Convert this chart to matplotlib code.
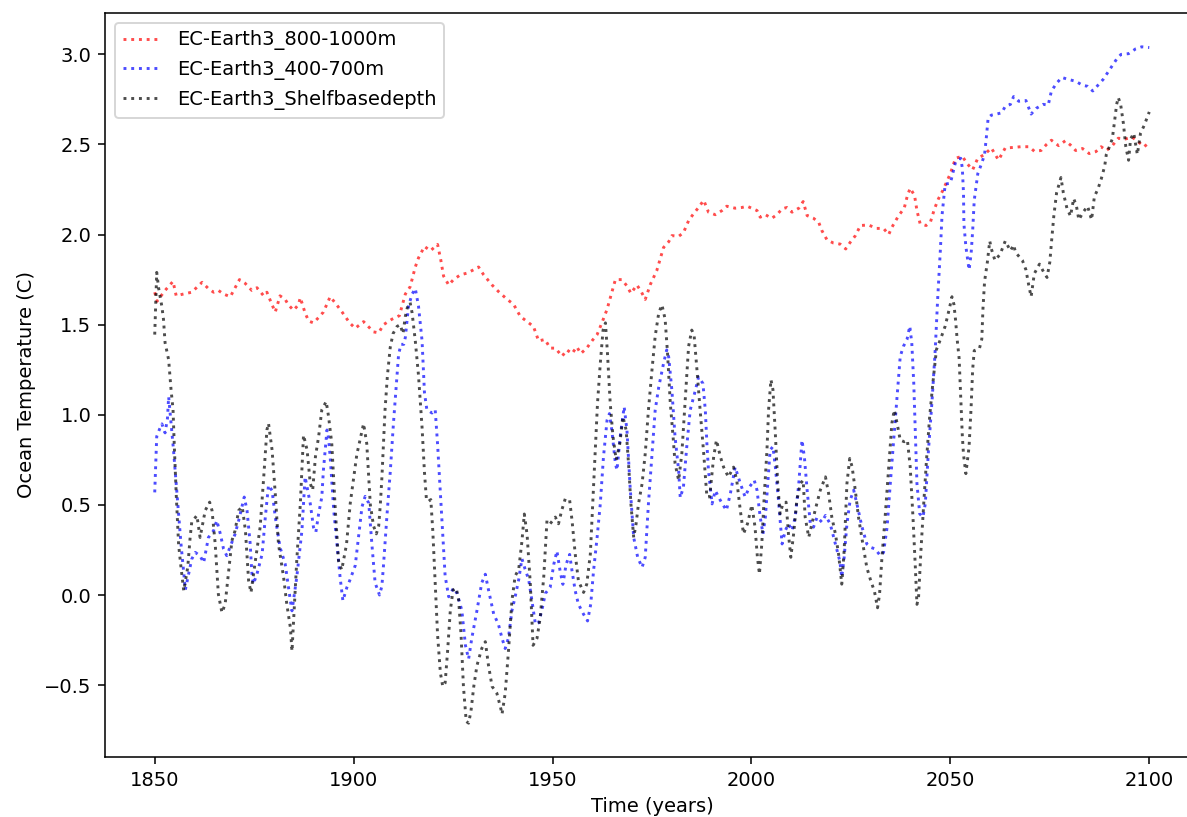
from matplotlib import pyplot as plt

# EC-Earth3 800-1000m (red)
yrs_800 = [1850.0, 1850.6, 1852.6, 1854.6, 1855.4, 1857.2, 1859.3, 1861.9, 1863.5, 1864.8,
           1866.0, 1867.3, 1869.0, 1871.3, 1872.7, 1874.4, 1875.7, 1877.4, 1878.2, 1879.5,
           1880.3, 1881.5, 1882.8, 1883.6, 1884.9, 1886.1, 1886.6, 1887.8, 1888.7, 1889.9,
           1891.2, 1892.4, 1894.1, 1895.4, 1897.1, 1899.0, 1900.4, 1902.5, 1905.0, 1906.3,
           1907.5, 1909.6, 1911.5, 1913.0, 1914.2, 1915.5, 1916.3, 1917.8, 1919.3, 1921.1,
           1921.9, 1922.6, 1923.9, 1925.1, 1926.8, 1928.5, 1930.2, 1931.4, 1932.7, 1934.8,
           1936.4, 1938.5, 1940.2, 1941.9, 1943.6, 1945.2, 1946.5, 1948.1, 1949.4, 1950.7,
           1952.4, 1953.6, 1954.9, 1956.1, 1957.1, 1958.6, 1959.9, 1961.2, 1962.4, 1963.7,
           1964.9, 1965.8, 1967.4, 1968.7, 1969.7, 1971.2, 1972.2, 1973.3, 1974.6, 1976.2,
           1977.9, 1979.2, 1980.0, 1981.7, 1982.9, 1984.2, 1985.4, 1986.7, 1988.0, 1989.2,
           1990.9, 1992.6, 1993.8, 1995.9, 1997.6, 1998.9, 2001.4, 2002.2, 2003.5, 2005.1,
           2006.4, 2007.7, 2008.9, 2010.2, 2011.9, 2013.0, 2014.0, 2015.6, 2016.9, 2017.7,
           2019.0, 2020.6, 2022.3, 2023.7, 2024.8, 2026.1, 2027.4, 2029.4, 2031.5, 2033.2,
           2034.5, 2035.3, 2037.0, 2038.4, 2039.2, 2039.9, 2041.0, 2041.6, 2042.4, 2043.9,
           2045.0, 2046.0, 2047.0, 2048.1, 2050.0, 2051.3, 2053.0, 2054.3, 2055.6, 2056.9,
           2058.6, 2060.3, 2062.1, 2063.8, 2065.9, 2067.7, 2069.8, 2071.1, 2072.8, 2074.1,
           2075.4, 2077.2, 2078.9, 2080.2, 2081.5, 2083.2, 2084.9, 2086.6, 2087.9, 2089.2,
           2090.5, 2092.2, 2094.0, 2095.7, 2097.2, 2098.7, 2100.0]
temp_800 = [1.68, 1.63, 1.69, 1.74, 1.66, 1.67, 1.68, 1.735, 1.70, 1.68,
            1.69, 1.67, 1.655, 1.75, 1.73, 1.69, 1.705, 1.66, 1.68, 1.61,
            1.57, 1.66, 1.64, 1.61, 1.58, 1.61, 1.65, 1.565, 1.52, 1.51,
            1.54, 1.57, 1.655, 1.62, 1.57, 1.51, 1.48, 1.517, 1.46, 1.455,
            1.50, 1.53, 1.55, 1.67, 1.71, 1.82, 1.87, 1.934, 1.91, 1.945,
            1.86, 1.77, 1.72, 1.75, 1.776, 1.786, 1.805, 1.82, 1.776, 1.72,
            1.684, 1.642, 1.613, 1.546, 1.517, 1.49, 1.41, 1.418, 1.37, 1.37,
            1.325, 1.36, 1.34, 1.377, 1.34, 1.37, 1.41, 1.445, 1.51, 1.585,
            1.68, 1.75, 1.75, 1.715, 1.674, 1.72, 1.687, 1.64, 1.724, 1.80,
            1.928, 1.96, 1.994, 1.99, 2.01, 2.077, 2.114, 2.15, 2.19, 2.124,
            2.11, 2.133, 2.157, 2.146, 2.15, 2.157, 2.133, 2.096, 2.11, 2.09,
            2.11, 2.142, 2.15, 2.124, 2.146, 2.183, 2.105, 2.09, 2.068, 2.022,
            1.97, 1.953, 1.947, 1.92, 1.956, 1.993, 2.05, 2.053, 2.034, 2.034,
            2.0, 2.04, 2.105, 2.146, 2.216, 2.257, 2.216, 2.133, 2.06, 2.05,
            2.07, 2.142, 2.198, 2.244, 2.338, 2.423, 2.434, 2.391, 2.359, 2.423,
            2.444, 2.48, 2.413, 2.48, 2.483, 2.487, 2.487, 2.462, 2.466, 2.498,
            2.523, 2.493, 2.52, 2.496, 2.466, 2.477, 2.449, 2.46, 2.487, 2.466,
            2.487, 2.534, 2.53, 2.54, 2.515, 2.487, 2.51]

# EC-Earth3 400-700m (blue)
yrs_400 = [1850.0, 1850.5, 1851.2, 1851.8, 1852.6, 1853.2, 1853.5, 1854.7, 1855.6, 1856.6,
           1857.7, 1859.3, 1860.2, 1861.4, 1862.3, 1863.5, 1864.8, 1865.6, 1866.5, 1867.3,
           1868.1, 1869.4, 1870.2, 1871.1, 1871.9, 1872.5, 1873.2, 1874.0, 1874.4, 1874.8,
           1875.7, 1877.0, 1877.8, 1878.6, 1879.5, 1880.3, 1881.5, 1882.8, 1884.1, 1884.5,
           1885.7, 1887.0, 1887.8, 1889.1, 1889.9, 1890.5, 1891.2, 1892.0, 1892.4, 1893.3,
           1893.7, 1894.1, 1895.0, 1895.8, 1896.6, 1897.3, 1898.3, 1899.0, 1900.4, 1901.2,
           1902.1, 1902.9, 1903.8, 1904.6, 1905.4, 1906.5, 1907.1, 1907.5, 1908.4, 1909.2,
           1910.0, 1910.9, 1911.3, 1911.9, 1912.6, 1913.0, 1913.8, 1914.7, 1915.5, 1916.3,
           1917.2, 1917.8, 1918.4, 1919.7, 1920.5, 1921.1, 1921.6, 1922.2, 1923.0, 1923.9,
           1925.1, 1926.0, 1927.2, 1928.1, 1928.9, 1929.7, 1931.0, 1932.2, 1933.1, 1933.9,
           1935.2, 1936.4, 1937.3, 1938.1, 1938.9, 1939.8, 1940.6, 1941.5, 1942.3, 1943.1,
           1944.0, 1944.8, 1945.7, 1946.5, 1947.3, 1948.2, 1949.4, 1950.3, 1951.1, 1951.9,
           1952.6, 1953.4, 1954.3, 1954.9, 1955.7, 1956.5, 1957.8, 1958.8, 1959.6, 1960.3,
           1961.2, 1962.0, 1962.8, 1963.7, 1964.3, 1964.9, 1965.8, 1966.2, 1967.0, 1968.0,
           1968.7, 1969.5, 1970.4, 1971.4, 1972.5, 1973.3, 1974.1, 1975.0, 1975.8, 1976.7,
           1977.9, 1978.7, 1979.2, 1980.0, 1980.8, 1981.7, 1982.1, 1982.9, 1983.8, 1984.6,
           1985.9, 1986.7, 1987.8, 1988.4, 1988.8, 1989.2, 1990.1, 1990.9, 1992.2, 1993.7,
           1994.7, 1995.9, 1997.2, 1998.4, 1999.5, 2000.7, 2001.4, 2002.2, 2002.9, 2003.5,
           2004.1, 2004.7, 2005.4, 2006.0, 2006.8, 2007.7, 2008.5, 2009.3, 2010.2, 2011.0,
           2011.9, 2012.7, 2013.3, 2014.0, 2014.8, 2015.6, 2016.5, 2017.7, 2018.6, 2019.8,
           2021.1, 2022.2, 2022.7, 2023.3, 2024.0, 2024.8, 2025.7, 2026.5, 2027.8, 2029.0,
           2030.0, 2031.1, 2032.4, 2033.2, 2034.1, 2034.9, 2035.7, 2036.6, 2037.4, 2038.2,
           2039.1, 2039.8, 2040.3, 2040.8, 2041.2, 2041.6, 2042.3, 2043.1, 2043.7, 2044.5,
           2045.4, 2046.2, 2046.8, 2047.5, 2047.9, 2048.7, 2050.0, 2051.3, 2052.6, 2053.0,
           2053.3, 2053.4, 2053.9, 2054.7, 2055.2, 2055.6, 2056.0, 2056.9, 2057.8, 2058.6,
           2059.1, 2059.5, 2060.3, 2061.6, 2062.9, 2063.8, 2065.1, 2065.9, 2067.2, 2069.0,
           2070.3, 2071.6, 2073.3, 2074.6, 2075.4, 2076.7, 2078.0, 2079.7, 2081.5, 2083.2,
           2084.5, 2085.8, 2087.1, 2088.4, 2089.7, 2090.7, 2091.8, 2092.9, 2094.8, 2096.6,
           2098.1, 2100.0]
temp_400 = [0.57, 0.88, 0.92, 0.95, 0.90, 0.98, 1.10, 0.81, 0.563, 0.284,
            0.03, 0.20, 0.237, 0.218, 0.18, 0.32, 0.358, 0.414, 0.339, 0.256,
            0.219, 0.293, 0.339, 0.414, 0.489, 0.544, 0.47, 0.284, 0.127, 0.062,
            0.117, 0.228, 0.433, 0.61, 0.58, 0.433, 0.265, 0.172, -0.031, -0.087,
            0.099, 0.358, 0.656, 0.507, 0.377, 0.349, 0.451, 0.544, 0.693, 0.916,
            0.87, 0.767, 0.47, 0.284, 0.098, -0.031, 0.043, 0.08, 0.164, 0.318,
            0.49, 0.548, 0.51, 0.279, 0.068, 0.001, 0.05, 0.164, 0.45, 0.682,
            0.951, 1.22, 1.335, 1.391, 1.391, 1.43, 1.604, 1.67, 1.70, 1.604,
            1.41, 1.124, 1.029, 1.01, 1.029, 0.837, 0.644, 0.414, 0.106, -0.009,
            0.039, 0.01, -0.085, -0.278, -0.354, -0.239, -0.085, 0.068, 0.116, 0.029,
            -0.104, -0.162, -0.239, -0.296, -0.239, -0.085, -0.009, 0.087, 0.202, 0.144,
            0.087, -0.028, -0.162, -0.153, -0.085, 0.01, 0.043, 0.17, 0.245, 0.134,
            0.06, 0.17, 0.226, 0.134, 0.024, -0.05, -0.106, -0.143, -0.05, 0.134,
            0.32, 0.506, 0.766, 0.97, 1.007, 0.915, 0.73, 0.693, 0.878, 1.045,
            0.915, 0.6, 0.32, 0.21, 0.154, 0.21, 0.506, 0.785, 1.026, 1.155,
            1.285, 1.36, 1.32, 1.136, 0.876, 0.69, 0.54, 0.6, 0.84, 1.026,
            1.136, 1.21, 1.174, 1.026, 0.84, 0.69, 0.506, 0.58, 0.525, 0.47,
            0.563, 0.71, 0.62, 0.545, 0.6, 0.637, 0.582, 0.433, 0.34, 0.433,
            0.619, 0.805, 0.824, 0.712, 0.526, 0.284, 0.358, 0.395, 0.358, 0.433,
            0.619, 0.86, 0.767, 0.582, 0.395, 0.377, 0.433, 0.405, 0.442, 0.395,
            0.284, 0.19, 0.1, 0.209, 0.395, 0.526, 0.582, 0.507, 0.377, 0.284,
            0.265, 0.256, 0.219, 0.237, 0.377, 0.619, 0.842, 1.1, 1.324, 1.38,
            1.418, 1.492, 1.399, 1.175, 0.895, 0.619, 0.451, 0.433, 0.507, 0.805,
            1.08, 1.362, 1.64, 1.92, 2.105, 2.28, 2.284, 2.402, 2.423, 2.37,
            2.231, 2.06, 1.933, 1.804, 1.89, 2.018, 2.19, 2.338, 2.39, 2.444,
            2.551, 2.647, 2.662, 2.668, 2.675, 2.711, 2.722, 2.765, 2.739, 2.743,
            2.668, 2.7, 2.722, 2.718, 2.796, 2.839, 2.871, 2.86, 2.85, 2.828,
            2.822, 2.796, 2.828, 2.86, 2.903, 2.935, 2.973, 2.999, 3.003, 3.03,
            3.041, 3.037]

# EC-Earth3 shelf base depth (black)
yrs_shelf = [1850.0, 1850.5, 1851.0, 1851.8, 1852.2, 1852.6, 1853.5, 1854.1, 1854.6, 1854.9,
             1855.4, 1856.0, 1856.6, 1857.3, 1858.3, 1858.9, 1859.3, 1860.6, 1861.4, 1862.7,
             1863.8, 1864.4, 1865.2, 1866.0, 1866.9, 1867.7, 1868.6, 1869.4, 1870.2, 1871.1,
             1872.0, 1872.8, 1873.6, 1874.2, 1875.3, 1876.5, 1877.4, 1878.2, 1878.6, 1879.5,
             1880.3, 1881.1, 1882.4, 1883.2, 1884.1, 1884.5, 1884.9, 1885.7, 1886.6, 1887.4,
             1888.3, 1889.1, 1889.7, 1890.4, 1891.2, 1892.0, 1893.1, 1893.7, 1894.5, 1895.4,
             1896.2, 1897.0, 1898.2, 1899.15, 1900.8, 1902.5, 1903.3, 1903.8, 1904.2, 1905.0,
             1905.7, 1906.3, 1906.7, 1907.1, 1907.5, 1907.9, 1908.5, 1909.2, 1909.9, 1910.9,
             1911.7, 1912.4, 1913.0, 1913.6, 1914.2, 1914.7, 1915.5, 1916.3, 1917.2, 1917.8,
             1918.3, 1918.8, 1919.4, 1919.9, 1920.5, 1921.1, 1921.8, 1922.4, 1923.0, 1923.6,
             1924.3, 1925.0, 1925.8, 1926.4, 1927.0, 1927.6, 1928.3, 1928.9, 1929.5, 1930.2,
             1931.0, 1932.2, 1933.1, 1933.9, 1934.8, 1936.0, 1936.9, 1937.3, 1938.1, 1938.9,
             1939.8, 1940.6, 1941.5, 1942.3, 1942.9, 1943.6, 1944.4, 1945.1, 1946.1, 1946.9,
             1947.8, 1948.6, 1949.4, 1950.7, 1951.5, 1952.3, 1953.2, 1954.3, 1954.9, 1955.7,
             1956.5, 1957.8, 1958.6, 1959.5, 1960.1, 1960.7, 1961.3, 1962.0, 1962.7, 1963.3,
             1963.8, 1964.5, 1965.2, 1966.0, 1966.9, 1967.7, 1968.5, 1969.1, 1969.7, 1970.4,
             1971.0, 1971.6, 1972.5, 1973.3, 1974.1, 1975.0, 1975.8, 1976.7, 1977.5, 1978.3,
             1978.9, 1979.6, 1980.3, 1980.8, 1981.7, 1982.5, 1983.4, 1984.2, 1985.0, 1985.6,
             1986.3, 1987.1, 1988.0, 1988.8, 1989.5, 1990.5, 1991.2, 1992.2, 1993.0, 1994.2,
             1995.5, 1996.3, 1997.2, 1998.0, 1999.0, 2000.1, 2000.9, 2001.5, 2002.0, 2002.6,
             2003.2, 2003.9, 2004.3, 2004.9, 2005.4, 2006.0, 2006.6, 2007.2, 2007.9, 2008.7,
             2009.3, 2009.9, 2010.6, 2011.4, 2012.3, 2013.0, 2013.5, 2014.4, 2015.2, 2016.0,
             2017.3, 2018.6, 2019.4, 2020.2, 2021.1, 2021.9, 2022.7, 2023.3, 2024.0, 2024.7,
             2025.3, 2026.1, 2026.9, 2028.0, 2029.0, 2030.0, 2030.9, 2031.7, 2032.2, 2032.8,
             2033.6, 2034.5, 2035.3, 2035.9, 2036.6, 2037.4, 2038.4, 2039.2, 2039.9, 2040.6,
             2041.2, 2041.6, 2042.0, 2042.6, 2043.3, 2044.0, 2044.8, 2045.6, 2046.5, 2047.5,
             2048.7, 2049.7, 2050.4, 2050.9, 2051.3, 2051.7, 2052.2, 2052.4, 2052.8, 2053.0,
             2053.3, 2053.9, 2054.7, 2055.2, 2055.6, 2056.0, 2057.3, 2057.9, 2058.2, 2058.6,
             2059.3, 2059.9, 2060.3, 2061.2, 2062.5, 2063.8, 2065.1, 2065.9, 2066.4, 2068.1,
             2069.0, 2069.7, 2070.3, 2071.1, 2072.4, 2073.4, 2074.3, 2075.0, 2075.4, 2076.0,
             2076.7, 2077.8, 2078.4, 2079.3, 2080.2, 2081.0, 2081.7, 2082.3, 2083.4, 2084.5,
             2085.5, 2086.2, 2087.1, 2087.9, 2088.8, 2089.2, 2089.8, 2090.7, 2091.2, 2091.8,
             2092.2, 2092.8, 2093.5, 2094.1, 2094.8, 2095.3, 2096.1, 2097.0, 2097.8, 2098.7,
             2100.0]
temp_shelf = [1.445, 1.79, 1.70, 1.60, 1.53, 1.40, 1.305, 1.14, 1.03, 0.84,
              0.56, 0.28, 0.155, 0.024, 0.155, 0.32, 0.405, 0.442, 0.32, 0.47,
              0.516, 0.47, 0.284, 0.005, -0.097, -0.05, 0.135, 0.302, 0.358, 0.47,
              0.49, 0.358, 0.08, 0.014, 0.191, 0.377, 0.656, 0.916, 0.953, 0.805,
              0.563, 0.284, 0.098, -0.05, -0.18, -0.311, -0.143, 0.191, 0.507, 0.888,
              0.805, 0.619, 0.582, 0.768, 0.879, 1.028, 1.074, 0.99, 0.842, 0.47,
              0.191, 0.14, 0.28, 0.51, 0.78, 0.951, 0.84, 0.65, 0.5, 0.384,
              0.34, 0.384, 0.5, 0.65, 0.84, 1.03, 1.22, 1.374, 1.45, 1.49,
              1.5, 1.45, 1.546, 1.604, 1.623, 1.565, 1.41, 1.22, 0.93, 0.682,
              0.53, 0.52, 0.53, 0.356, 0.068, -0.22, -0.43, -0.506, -0.487, -0.316,
              -0.085, 0.029, 0.039, -0.028, -0.22, -0.506, -0.70, -0.71, -0.642, -0.506,
              -0.39, -0.296, -0.258, -0.39, -0.506, -0.544, -0.62, -0.66, -0.544, -0.316,
              -0.028, 0.106, 0.144, 0.298, 0.45, 0.336, 0.068, -0.278, -0.239, -0.124,
              0.106, 0.414, 0.396, 0.433, 0.396, 0.47, 0.535, 0.526, 0.414, 0.228,
              0.08, 0.015, 0.061, 0.228, 0.506, 0.785, 1.064, 1.285, 1.47, 1.51,
              1.343, 1.064, 0.878, 0.75, 0.84, 0.99, 0.915, 0.73, 0.506, 0.32,
              0.396, 0.506, 0.617, 0.785, 1.026, 1.25, 1.436, 1.566, 1.61, 1.53,
              1.343, 1.064, 0.878, 0.73, 0.637, 0.785, 1.1, 1.38, 1.47, 1.436,
              1.25, 1.026, 0.785, 0.545, 0.545, 0.767, 0.86, 0.767, 0.71, 0.655,
              0.71, 0.637, 0.47, 0.34, 0.396, 0.5, 0.377, 0.21, 0.117, 0.284,
              0.545, 0.805, 1.027, 1.195, 1.14, 0.898, 0.619, 0.451, 0.507, 0.516,
              0.34, 0.21, 0.34, 0.526, 0.619, 0.637, 0.433, 0.321, 0.395, 0.47,
              0.582, 0.656, 0.563, 0.433, 0.34, 0.228, 0.061, 0.246, 0.619, 0.758,
              0.712, 0.582, 0.433, 0.284, 0.153, 0.079, 0.023, -0.07, 0.005, 0.209,
              0.433, 0.712, 0.954, 1.027, 0.954, 0.86, 0.851, 0.86, 0.712, 0.433,
              0.153, -0.051, -0.014, 0.246, 0.507, 0.749, 0.991, 1.176, 1.362, 1.418,
              1.492, 1.585, 1.655, 1.612, 1.527, 1.42, 1.314, 1.207, 0.994, 0.887,
              0.78, 0.674, 0.823, 1.036, 1.25, 1.356, 1.367, 1.42, 1.591, 1.74,
              1.847, 1.964, 1.921, 1.857, 1.89, 1.964, 1.91, 1.942, 1.9, 1.857,
              1.804, 1.719, 1.655, 1.783, 1.836, 1.794, 1.762, 1.847, 1.953, 2.102,
              2.231, 2.316, 2.231, 2.146, 2.102, 2.2, 2.157, 2.082, 2.125, 2.157,
              2.082, 2.21, 2.253, 2.306, 2.38, 2.444, 2.477, 2.53, 2.615, 2.722,
              2.76, 2.722, 2.615, 2.487, 2.412, 2.53, 2.562, 2.444, 2.562, 2.604,
              2.68]

fig = plt.figure(figsize=(1187 / 140, 817 / 140), dpi=140)
ax = fig.add_axes([105 / 1187, 60 / 817, 1094 / 1187, 744 / 817])

ax.plot(yrs_800, temp_800, ':', color='red', alpha=0.7, label='EC-Earth3_800-1000m')
ax.plot(yrs_400, temp_400, ':', color='blue', alpha=0.7, label='EC-Earth3_400-700m')
ax.plot(yrs_shelf, temp_shelf, ':', color='black', alpha=0.7, label='EC-Earth3_Shelfbasedepth')

ax.set_xlabel('Time (years)')
ax.set_ylabel('Ocean Temperature (C)')
ax.legend(loc='upper left')

plt.savefig('out.png', dpi=140)
